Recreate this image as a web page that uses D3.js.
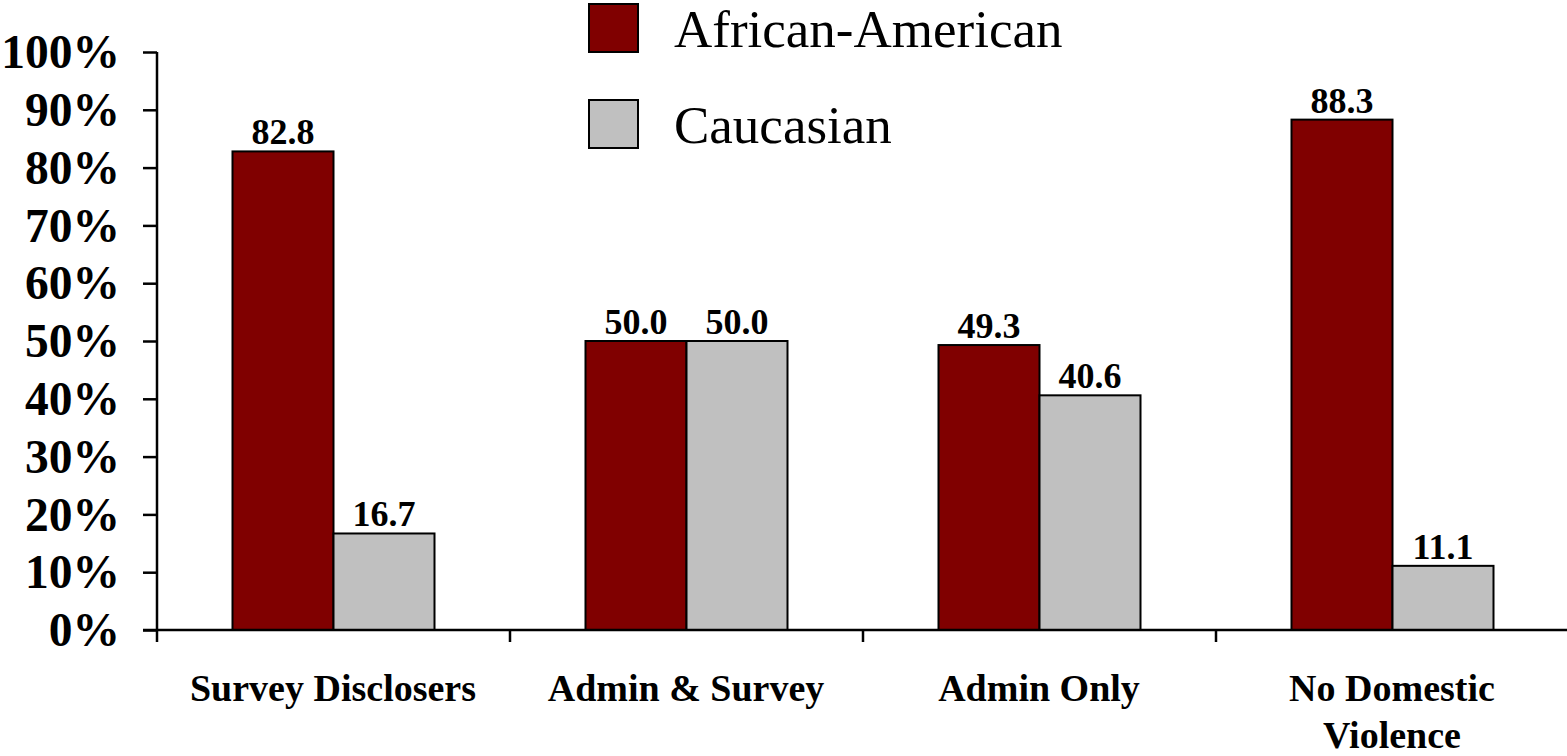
<!DOCTYPE html>
<html>
<head>
<meta charset="utf-8">
<script src="https://cdn.jsdelivr.net/npm/d3@7"></script>
<style>
  html, body { margin: 0; padding: 0; background: #fff; }
  svg { display: block; }
  text { font-family: "Liberation Serif", "Times New Roman", Times, serif; fill: #000; }
</style>
</head>
<body>
<svg id="chart" width="1567" height="756"></svg>
<script>
// Domestic violence disclosure groups by race (percent)
const categories = ["Survey Disclosers", "Admin & Survey", "Admin Only", "No Domestic Violence"];
const categoryLines = [["Survey Disclosers"], ["Admin & Survey"], ["Admin Only"], ["No Domestic", "Violence"]];
const seriesNames = ["African-American", "Caucasian"];
const africanAmerican = [82.8, 50.0, 49.3, 88.3];
const caucasian = [16.7, 50.0, 40.6, 11.1];
const yTicks = [0, 10, 20, 30, 40, 50, 60, 70, 80, 90, 100];
const seriesColors = ["#800000", "#C0C0C0"];

const svg = d3.select("#chart");

const plotLeft = 157, plotRight = 1569, plotTop = 52, plotBottom = 630;

const y = d3.scaleLinear().domain([0, 100]).range([plotBottom, plotTop]);
const x0 = d3.scaleBand().domain(categories).range([plotLeft, plotRight]).paddingInner(0).paddingOuter(0);
const x1 = d3.scaleBand().domain(seriesNames).range([0, x0.bandwidth()]).paddingInner(0).paddingOuter(0.7475);

const rows = categories.map((c, i) => ({
  category: c,
  values: [
    { series: seriesNames[0], value: africanAmerican[i] },
    { series: seriesNames[1], value: caucasian[i] }
  ]
}));
const color = d3.scaleOrdinal().domain(seriesNames).range(seriesColors);

// Bars
const groups = svg.append("g").selectAll("g")
  .data(rows).join("g")
  .attr("transform", d => `translate(${x0(d.category)},0)`);

groups.selectAll("rect")
  .data(d => d.values).join("rect")
  .attr("x", d => x1(d.series))
  .attr("y", d => y(d.value))
  .attr("width", x1.bandwidth())
  .attr("height", d => y(0) - y(d.value))
  .attr("fill", d => color(d.series))
  .attr("stroke", "#000")
  .attr("stroke-width", 2);

// Value labels
groups.selectAll("text.val")
  .data(d => d.values).join("text")
  .attr("class", "val")
  .attr("x", d => x1(d.series) + x1.bandwidth() / 2)
  .attr("y", d => y(d.value) - 7)
  .attr("text-anchor", "middle")
  .attr("font-weight", "bold")
  .attr("font-size", 36)
  .text(d => d.value.toFixed(1));

// Y axis
const yAxis = d3.axisLeft(y).tickValues(yTicks).tickSize(14).tickFormat(d => d + "%");
const yg = svg.append("g").attr("transform", `translate(${plotLeft},0)`).call(yAxis);
yg.select(".domain").attr("stroke", "#000").attr("stroke-width", 2.5).attr("d", `M0,${plotTop}V${plotBottom}`);
yg.selectAll(".tick line").attr("stroke", "#000").attr("stroke-width", 2.5);
yg.selectAll(".tick text")
  .attr("x", -37)
  .attr("dy", "0.33em")
  .attr("font-size", 47.5)
  .attr("font-weight", "bold")
  .attr("font-family", "Liberation Serif, Times New Roman, serif")
  .attr("fill", "#000");

// X axis baseline with category separator ticks
const boundaries = categories.map(c => x0(c));
const xg = svg.append("g");
xg.append("line")
  .attr("x1", plotLeft - 14).attr("x2", plotRight)
  .attr("y1", y(0)).attr("y2", y(0))
  .attr("stroke", "#000").attr("stroke-width", 2.5);
xg.selectAll("line.sep")
  .data(boundaries).join("line")
  .attr("class", "sep")
  .attr("x1", d => d).attr("x2", d => d)
  .attr("y1", y(0)).attr("y2", y(0) + 12)
  .attr("stroke", "#000").attr("stroke-width", 2.5);

// Category labels
const catText = svg.append("g").selectAll("text")
  .data(categories).join("text")
  .attr("x", d => x0(d) + x0.bandwidth() / 2 - 0.5)
  .attr("y", 701)
  .attr("text-anchor", "middle")
  .attr("font-weight", "bold")
  .attr("font-size", 38);
catText.selectAll("tspan")
  .data((d, i) => categoryLines[i]).join("tspan")
  .attr("x", function () { return d3.select(this.parentNode).attr("x"); })
  .attr("dy", (d, i) => i === 0 ? 0 : 47)
  .text(d => d);

// Legend
const legend = svg.append("g").selectAll("g")
  .data(seriesNames).join("g")
  .attr("transform", (d, i) => `translate(589,${4 + i * 96})`);
legend.append("rect")
  .attr("width", 49).attr("height", 48)
  .attr("fill", d => color(d))
  .attr("stroke", "#000").attr("stroke-width", 2);
legend.append("text")
  .attr("x", 85).attr("y", 43)
  .attr("font-size", 53)
  .text(d => d);
</script>
</body>
</html>
